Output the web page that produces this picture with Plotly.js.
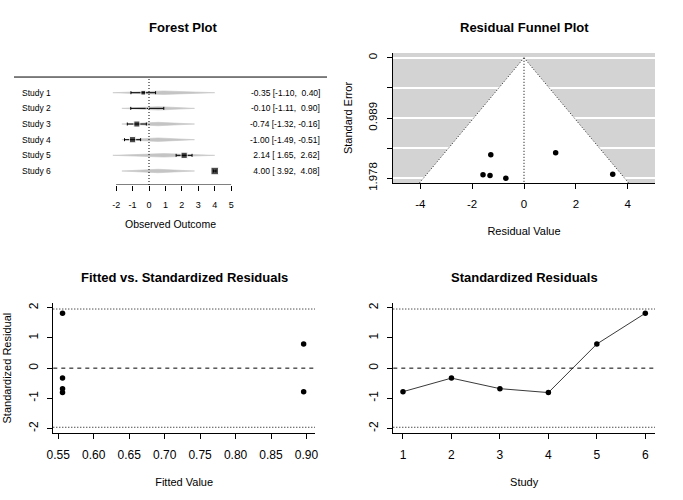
<!DOCTYPE html>
<html><head><meta charset="utf-8">
<script src="https://cdn.plot.ly/plotly-3.0.1.min.js"></script>
<style>html,body{margin:0;padding:0;background:#fff}</style>
</head><body><div id="chart" style="width:683px;height:500px"></div>
<script>
// ---------- data ----------
const studies   = ['Study 1','Study 2','Study 3','Study 4','Study 5','Study 6'];
const studyNum  = [1, 2, 3, 4, 5, 6];
const yi        = [-0.35, -0.10, -0.74, -1.00, 2.14, 4.00];
const ciLb      = [-1.10, -1.11, -1.32, -1.49, 1.65, 3.92];
const ciUb      = [0.40, 0.90, -0.16, -0.51, 2.62, 4.08];
const relWeight = [0.62, 0.30, 0.80, 0.83, 0.83, 1.00];
const fitted    = [0.896, 0.556, 0.556, 0.556, 0.896, 0.556];
const fitLb     = [-2.20, -1.65, -1.65, -1.65, -2.20, -1.65];
const fitUb     = [4.00, 2.77, 2.77, 2.77, 4.00, 2.77];
const residuals = [-1.28, -0.70, -1.31, -1.58, 1.22, 3.42];
const resSE     = [1.594, 1.978, 1.935, 1.923, 1.561, 1.912];
const stdRes    = [-0.78, -0.33, -0.68, -0.81, 0.80, 1.82];
const forestTicks = [-2, -1, 0, 1, 2, 3, 4, 5];
const funnelXTicks = [-4, -2, 0, 2, 4];
const seTicks   = [0, 0.4945, 0.989, 1.4835, 1.978];
const seLabels  = ['0', '', '0.989', '', '1.978'];
const fittedTicks = [0.55, 0.60, 0.65, 0.70, 0.75, 0.80, 0.85, 0.90];
const stdTicks  = [-2, -1, 0, 1, 2];
const zCrit = 1.96;

// ---------- helpers ----------
const W = 683, H = 500;
const FONT = 'Liberation Sans, Arial, sans-serif';
const dx = (a, b) => [a / W, b / W];
const dy = (top, bot) => [1 - bot / H, 1 - top / H];
const k = studies.length;
const rows = studies.map((s, i) => k - i);
const fmt = v => { let s = v.toFixed(2); while (s.length < 5) s = '\u00A0' + s; return s; };
const lab = v => String(v);          // R style labels with ASCII hyphen
const DOT = '1px,2px', DASH = '4px,4px';

const traces = [];
// forest: fitted-value diamonds
const dh = 0.11;
studies.forEach((s, i) => {
  const r = rows[i];
  traces.push({
    type: 'scatter', mode: 'lines', xaxis: 'x', yaxis: 'y',
    x: [fitLb[i], fitted[i], fitUb[i], fitted[i], fitLb[i]],
    y: [r, r + dh, r, r - dh, r],
    fill: 'toself', fillcolor: '#c4c4c4', line: {color: '#c4c4c4', width: 0.6},
    hoverinfo: 'skip', showlegend: false
  });
});
// forest: observed outcomes with CIs
traces.push({
  type: 'scatter', mode: 'markers', xaxis: 'x', yaxis: 'y',
  x: yi, y: rows,
  marker: {symbol: 'square', color: 'black', size: relWeight.map(w => 7.5 * w)},
  error_x: {type: 'data', symmetric: false,
    array: yi.map((v, i) => ciUb[i] - v), arrayminus: yi.map((v, i) => v - ciLb[i]),
    color: 'black', thickness: 1, width: 1.5},
  showlegend: false
});
// funnel points
traces.push({
  type: 'scatter', mode: 'markers', xaxis: 'x2', yaxis: 'y2',
  x: residuals, y: resSE, marker: {color: 'black', size: 5.5}, showlegend: false
});
// fitted vs standardized residuals
traces.push({
  type: 'scatter', mode: 'markers', xaxis: 'x3', yaxis: 'y3',
  x: fitted, y: stdRes, marker: {color: 'black', size: 5.5}, showlegend: false
});
// standardized residuals by study
traces.push({
  type: 'scatter', mode: 'lines+markers', xaxis: 'x4', yaxis: 'y4',
  x: studyNum, y: stdRes, line: {color: '#3a3a3a', width: 1},
  marker: {color: 'black', size: 5.5}, showlegend: false
});

// ---------- axes ----------
const tickFont = {family: FONT, size: 12, color: 'black'};
const titleFont = {family: FONT, size: 11, color: 'black'};
const baseAx = {showgrid: false, zeroline: false, ticks: 'outside', ticklen: 5,
  tickcolor: 'black', tickwidth: 1, showline: true, linecolor: 'black', linewidth: 1,
  tickfont: tickFont, automargin: false, fixedrange: true};

const fTop = 60, fBot = 185, rowPx = 15.66, row1Px = 171;
const fyMin = 1 - (fBot - row1Px) / rowPx, fyMax = 1 + (row1Px - fTop) / rowPx;
const fPxPerUnit = 16.43, f0 = 149;
const fxMin = (14 - f0) / fPxPerUnit, fxMax = (327 - f0) / fPxPerUnit;

const funnelYBottom = 2.057, funnelYTop = -0.079;

const layout = {
  width: W, height: H, autosize: false,
  margin: {l: 0, r: 0, t: 0, b: 0},
  paper_bgcolor: 'white', plot_bgcolor: 'white',
  font: {family: FONT, color: 'black'},
  showlegend: false,
  xaxis: Object.assign({}, baseAx, {domain: dx(14, 327), range: [fxMin, fxMax], anchor: 'y',
    showline: false, tickvals: forestTicks, ticktext: forestTicks.map(lab),
    tickfont: {family: FONT, size: 9, color: 'black'},
    ticklabelstandoff: 6,
    title: {text: 'Observed Outcome', font: {family: FONT, size: 10.5, color: 'black'}, standoff: 11}}),
  yaxis: {domain: dy(fTop, fBot), range: [fyMin, fyMax], visible: false, fixedrange: true},

  xaxis2: Object.assign({}, baseAx, {domain: dx(393, 655), range: [-5.05, 5.05], anchor: 'y2',
    tickvals: funnelXTicks, ticktext: funnelXTicks.map(lab), ticklabelstandoff: 5,
    tickfont: {family: FONT, size: 11.5, color: 'black'},
    title: {text: 'Residual Value', font: titleFont, standoff: 18}}),
  yaxis2: Object.assign({}, baseAx, {domain: dy(53, 183), range: [funnelYBottom, funnelYTop], anchor: 'x2',
    tickvals: seTicks, ticktext: seLabels, tickangle: -90, showgrid: true, gridcolor: 'white', gridwidth: 1.5,
    ticklabelstandoff: 5, tickfont: {family: FONT, size: 11.5, color: 'black'},
    title: {text: 'Standard Error', font: titleFont, standoff: 12}}),

  xaxis3: Object.assign({}, baseAx, {domain: dx(53.3, 315), range: [0.543, 0.912], anchor: 'y3',
    tickvals: fittedTicks, ticktext: fittedTicks.map(v => v.toFixed(2)), ticklabelstandoff: 5,
    title: {text: 'Fitted Value', font: titleFont, standoff: 17}}),
  yaxis3: Object.assign({}, baseAx, {domain: dy(303, 433.3), range: [-2.16, 2.16], anchor: 'x3',
    tickvals: stdTicks, ticktext: stdTicks.map(lab), tickangle: -90, ticklabelstandoff: 5,
    title: {text: 'Standardized Residual', font: titleFont, standoff: 12}}),

  xaxis4: Object.assign({}, baseAx, {domain: dx(393.3, 655), range: [0.8, 6.2], anchor: 'y4',
    tickvals: studyNum, ticktext: studyNum.map(lab), ticklabelstandoff: 5,
    title: {text: 'Study', font: titleFont, standoff: 17}}),
  yaxis4: Object.assign({}, baseAx, {domain: dy(303, 433.3), range: [-2.16, 2.16], anchor: 'x4',
    tickvals: stdTicks, ticktext: stdTicks.map(lab), tickangle: -90, ticklabelstandoff: 5}),

  shapes: [
    // forest
    {type: 'line', xref: 'x domain', yref: 'y', x0: 0, x1: 1, y0: k + 1, y1: k + 1, line: {color: 'black', width: 1}},
    {type: 'line', xref: 'x', yref: 'y', x0: forestTicks[0], x1: forestTicks[forestTicks.length - 1], y0: fyMin, y1: fyMin, line: {color: 'black', width: 1}},
    {type: 'line', xref: 'x', yref: 'y', x0: 0, x1: 0, y0: fyMin, y1: k + 0.88, line: {color: 'black', width: 1, dash: DOT}},
    // funnel background and region
    {type: 'rect', xref: 'x2 domain', yref: 'y2 domain', x0: 0, x1: 1, y0: 0, y1: 1, fillcolor: '#d3d3d3', line: {width: 0}, layer: 'below'},
    {type: 'path', xref: 'x2', yref: 'y2', layer: 'below', fillcolor: 'white', line: {width: 0},
      path: `M ${-zCrit * funnelYBottom},${funnelYBottom} L 0,0 L ${zCrit * funnelYBottom},${funnelYBottom} Z`},
    {type: 'line', xref: 'x2', yref: 'y2', x0: 0, y0: 0, x1: -zCrit * funnelYBottom, y1: funnelYBottom, line: {color: '#222', width: 1, dash: DOT}},
    {type: 'line', xref: 'x2', yref: 'y2', x0: 0, y0: 0, x1: zCrit * funnelYBottom, y1: funnelYBottom, line: {color: '#222', width: 1, dash: DOT}},
    {type: 'line', xref: 'x2', yref: 'y2', x0: 0, y0: 0, x1: 0, y1: funnelYBottom, line: {color: 'black', width: 1, dash: DOT}},
    // reference lines on residual panels
    ...['3', '4'].flatMap(n => [
      {type: 'line', xref: 'x' + n + ' domain', yref: 'y' + n, x0: 0, x1: 1, y0: zCrit, y1: zCrit, line: {color: 'black', width: 1, dash: DOT}},
      {type: 'line', xref: 'x' + n + ' domain', yref: 'y' + n, x0: 0, x1: 1, y0: -zCrit, y1: -zCrit, line: {color: 'black', width: 1, dash: DOT}},
      {type: 'line', xref: 'x' + n + ' domain', yref: 'y' + n, x0: 0, x1: 1, y0: 0, y1: 0, line: {color: 'black', width: 1, dash: DASH}}
    ])
  ],
  annotations: []
};

// forest labels and CI text
studies.forEach((s, i) => {
  layout.annotations.push({xref: 'paper', yref: 'y', x: 20 / W, y: rows[i], xanchor: 'left', yanchor: 'middle',
    text: s, showarrow: false, font: {family: FONT, size: 8.5, color: 'black'}});
  layout.annotations.push({xref: 'paper', yref: 'y', x: 322 / W, y: rows[i], xanchor: 'right', yanchor: 'middle',
    text: fmt(yi[i]) + '\u00A0[' + fmt(ciLb[i]) + ',\u00A0' + fmt(ciUb[i]) + ']',
    showarrow: false, font: {family: FONT, size: 8.5, color: 'black'}});
});
// panel titles
[['Forest Plot', 183, 27], ['Residual Funnel Plot', 524, 27],
 ['Fitted vs. Standardized Residuals', 184, 277], ['Standardized Residuals', 524, 277]].forEach(t => {
  layout.annotations.push({xref: 'paper', yref: 'paper', x: t[1] / W, y: 1 - t[2] / H,
    xanchor: 'center', yanchor: 'middle', text: t[0], showarrow: false,
    font: {family: FONT, size: 13, color: 'black', weight: 'bold'}});
});

Plotly.newPlot('chart', traces, layout, {displayModeBar: false, staticPlot: true});
</script></body></html>
